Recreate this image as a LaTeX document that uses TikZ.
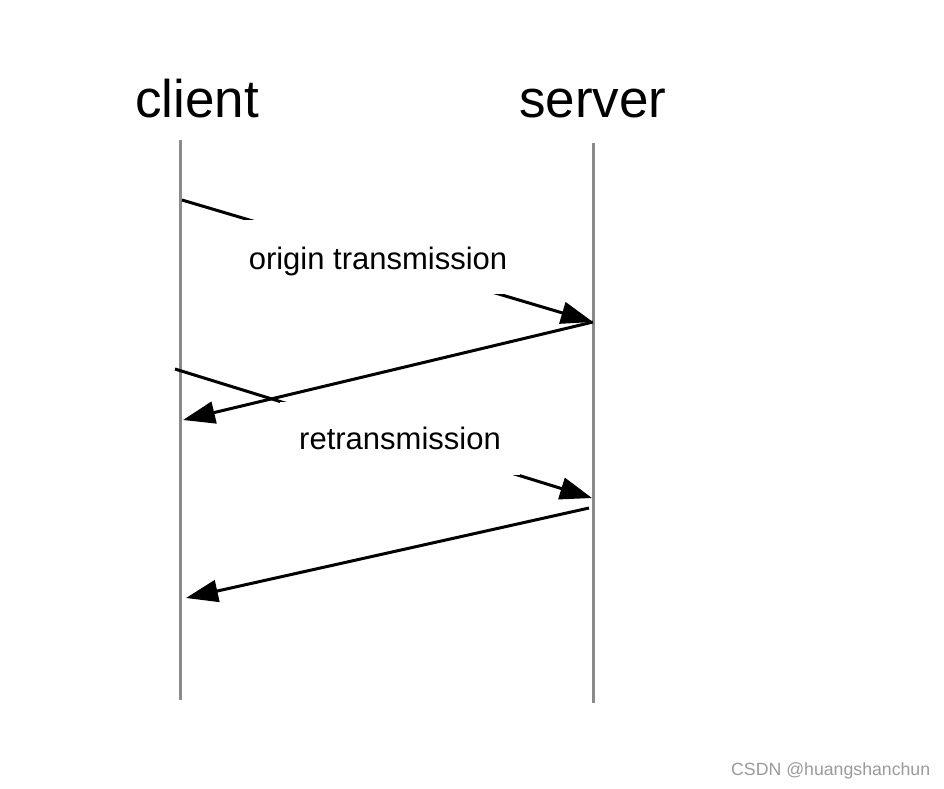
\documentclass[tikz,border=0pt]{standalone}
\usepackage{fontspec}
\setmainfont{Liberation Sans}
\usetikzlibrary{arrows.meta}
\definecolor{lifegray}{HTML}{8A8A8A}
\definecolor{markgray}{HTML}{9A9A9A}
\tikzset{
  lifeline/.style={draw=lifegray, line width=3pt},
  msg/.style={draw=black, line width=3pt, -{Triangle[length=32pt,width=22pt]}},
  msglabel/.style={fill=white, inner sep=0pt, minimum height=74pt, font=\fontsize{31}{36}\selectfont},
  actor/.style={anchor=base west, inner sep=0pt, font=\fontsize{53}{60}\selectfont}
}
\begin{document}
\begin{tikzpicture}[x=1pt,y={(0pt,-1pt)}]
\useasboundingbox (0,0) rectangle (944,788);
% actors
\node[actor] (cl) at (135,117) {client};
\node[actor] (sv) at (519,117) {server};
% lifelines
\coordinate (c1) at (180,140);
\coordinate (c2) at (180,700);
\coordinate (s1) at (593,143);
\coordinate (s2) at (593,703);
\draw[lifeline] (c1) -- (c2);
\draw[lifeline] (s1) -- (s2);
% message end points
\coordinate (a1) at (182,200);
\coordinate (b1) at (593,322);
\coordinate (a2) at (593,322);
\coordinate (b2) at (183,420);
\coordinate (a3) at (175,369);
\coordinate (b3) at (592,498);
\coordinate (a4) at (589,508);
\coordinate (b4) at (186,598);
% messages
\draw[msg] (a1) -- (b1);
\node[msglabel, minimum width=290pt, text height=32pt, text depth=6.5pt] (l1) at (378,256.5) {origin transmission};
\draw[msg] (a3) -- (b3);
\node[msglabel, minimum width=240pt, minimum height=73pt] (l2) at (400,438.5) {retransmission};
\draw[msg] (a2) -- (b2);
\draw[msg] (a4) -- (b4);
% watermark
\node[anchor=base west, inner sep=0pt, text=markgray, font=\fontsize{17.7}{20}\selectfont] (wm) at (731,775) {CSDN @huangshanchun};
\end{tikzpicture}
\end{document}
